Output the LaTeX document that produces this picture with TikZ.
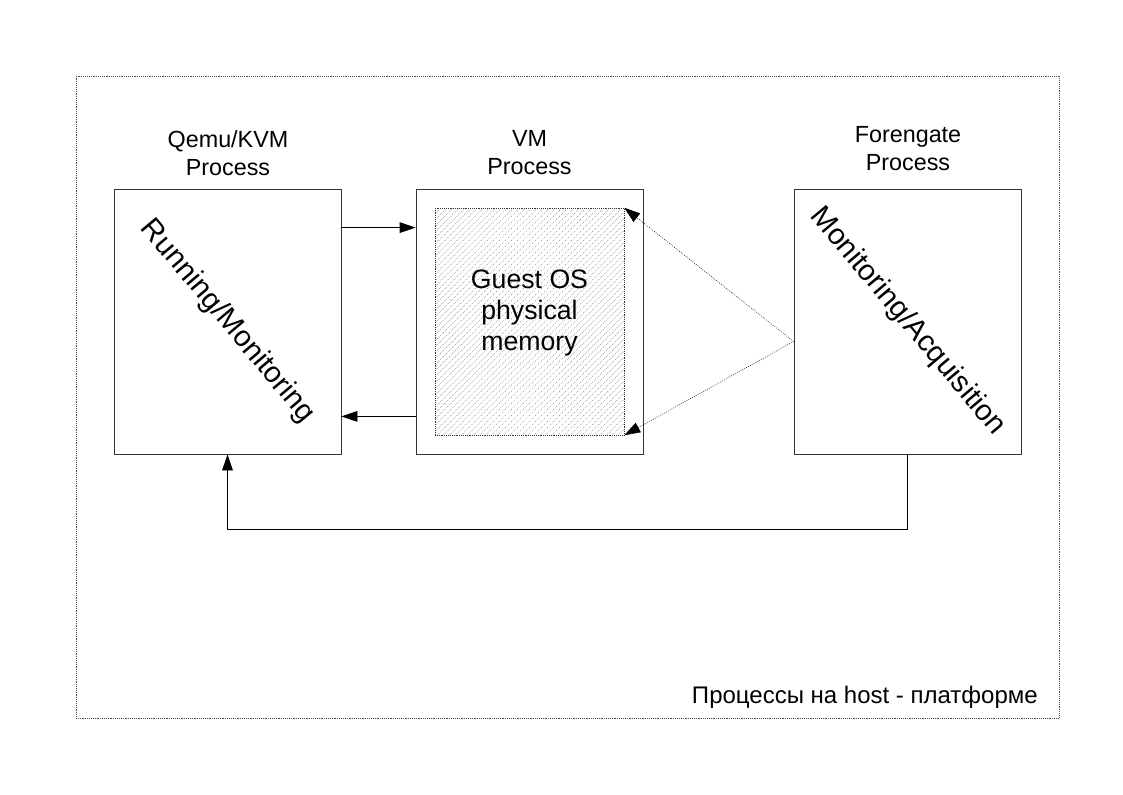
\documentclass[tikz,border=0pt]{standalone}
\usepackage{fontspec}
\setmainfont{Liberation Sans}
\usetikzlibrary{arrows.meta,calc,patterns.meta}

\begin{document}
\begin{tikzpicture}[x=0.75pt,y=-0.75pt,
    proc/.style={draw=black!80,line width=0.6pt,minimum width=170.25pt,minimum height=198.75pt,inner sep=0pt},
    title/.style={align=center,font=\fontsize{17.5}{21}\selectfont,inner sep=0pt},
    diag/.style={rotate=-50,font=\fontsize{22}{26}\selectfont,inner sep=0pt},
    link/.style={->,line width=0.6pt},
    >={Triangle[length=12pt,width=8pt]}]

\useasboundingbox (0,0) rectangle (1123,794);

% Host frame
\node[draw=black!70,densely dotted,minimum width=737.25pt,minimum height=481.5pt,inner sep=0pt] (host) at (567.5,397) {};
\node[font=\fontsize{18}{21}\selectfont,anchor=base east,inner sep=0pt] (hostlbl) at (1038,703) {Процессы на host - платформе};

% Processes
\node[proc] (qemu) at (227.5,321.5) {};
\node[proc] (vm) at (529.5,321.5) {};
\node[proc] (fgate) at (907.5,321.5) {};
\node[draw=black!80,densely dotted,pattern={Lines[angle=45,distance=3.2pt,line width=0.4pt]},pattern color=black!50,
    minimum width=141.75pt,minimum height=170.25pt,inner sep=0pt] (mem) at (529.5,321.5) {};

\node[title] (qemulbl) at (228,153) {Qemu/KVM\\Process};
\node[title] (vmlbl) at (529.5,153) {VM\\Process};
\node[title] (fgatelbl) at (908,149) {Forengate\\Process};

\node[diag] (run) at (qemu.center) {Running/Monitoring};
\node[diag] (acq) at (fgate.center) {Monitoring/Acquisition};
\node[align=center,font=\fontsize{20}{23}\selectfont,inner sep=0pt] (memlbl) at (529.5,313) {Guest OS\\physical\\memory};

% Links
\draw[link] ($(qemu.north east)+(0,39)$) -- ($(vm.north west)+(0,39)$);
\draw[link] ($(vm.south west)+(0,-38)$) -- ($(qemu.south east)+(0,-38)$);
\draw[link,densely dotted,line width=0.4pt] ($(fgate.west)+(0,20)$) -- (mem.north east);
\draw[link,densely dotted,line width=0.4pt] ($(fgate.west)+(0,20)$) -- (mem.south east);
\draw[link] (fgate.south) -- ++(0,75) -| (qemu.south);

\end{tikzpicture}
\end{document}
